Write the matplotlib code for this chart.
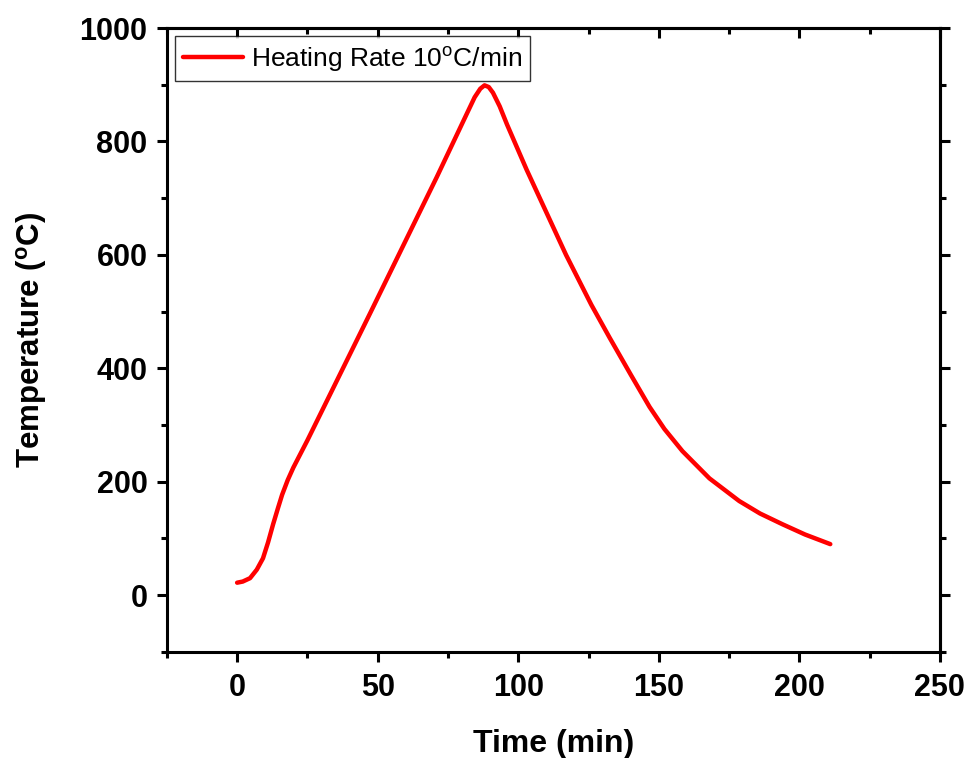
import numpy as np
import matplotlib
matplotlib.use("Agg")
import matplotlib.pyplot as plt
from matplotlib.ticker import MultipleLocator

# =========================
# DATA
# =========================
time_min = [0, 2, 4.6, 7, 9.2, 11, 12.8, 14.5, 16, 18, 20, 22.5, 25,
            47.2, 71, 82, 84.5, 86.5, 88, 89.5, 91, 93.4, 96, 103, 110,
            117, 126, 132.5, 140, 146.7, 152, 158.4, 168, 178.6, 186, 194,
            202, 211]
temp_c = [22, 24, 30, 45, 65, 93, 125, 153, 177, 203, 225, 249, 273,
          496, 737, 852, 878, 893, 899, 896, 886, 862, 830, 750, 675,
          600, 512, 454, 389, 332, 293, 254, 206, 166, 144, 125, 107, 90]

series_label = r"Heating Rate 10$^{\mathrm{o}}$C/min"

# =========================
# STYLE
# =========================
plt.rcParams["font.family"] = "Liberation Sans"
plt.rcParams["mathtext.fontset"] = "custom"
plt.rcParams["mathtext.rm"] = "Liberation Sans"
plt.rcParams["mathtext.bf"] = "Liberation Sans:bold"

LW = 2.2

fig = plt.figure(figsize=(9.7, 7.58), dpi=100)
ax = fig.add_axes([0.172, 0.140, 0.797, 0.823])

ax.plot(time_min, temp_c, color="#ff0000", linewidth=3.2, label=series_label,
        solid_joinstyle="round", solid_capstyle="round")

ax.set_xlim(-25, 250)
ax.set_ylim(-100, 1000)
ax.xaxis.set_major_locator(MultipleLocator(50))
ax.xaxis.set_minor_locator(MultipleLocator(25))
ax.yaxis.set_major_locator(MultipleLocator(200))
ax.yaxis.set_minor_locator(MultipleLocator(100))

for s in ax.spines.values():
    s.set_linewidth(LW)

ax.tick_params(which="both", direction="out", width=LW, labelsize=22)
ax.tick_params(which="major", length=7)
ax.tick_params(which="minor", length=4)
ax.tick_params(axis="y", pad=7)
ax.tick_params(axis="x", pad=8)
for lab in ax.get_xticklabels() + ax.get_yticklabels():
    lab.set_fontweight("bold")

# mirrored ticks: top inward, right outward
top = ax.secondary_xaxis("top")
top.xaxis.set_major_locator(MultipleLocator(50))
top.xaxis.set_minor_locator(MultipleLocator(25))
top.tick_params(which="both", direction="in", width=LW, labeltop=False)
top.tick_params(which="major", length=7)
top.tick_params(which="minor", length=4)
top.spines["top"].set_linewidth(LW)

right = ax.secondary_yaxis("right")
right.yaxis.set_major_locator(MultipleLocator(200))
right.yaxis.set_minor_locator(MultipleLocator(100))
right.tick_params(which="both", direction="out", width=LW, labelright=False)
right.tick_params(which="major", length=7)
right.tick_params(which="minor", length=4)
right.spines["right"].set_linewidth(LW)

ax.set_xlabel("Time (min)", fontsize=23, fontweight="bold", labelpad=19)
ax.set_ylabel(r"Temperature ($^{\mathbf{o}}$C)", fontsize=22.5,
              fontweight="bold", labelpad=22)

leg = ax.legend(loc="upper left", fontsize=19, frameon=True, fancybox=False,
                edgecolor="black", handlelength=2.3, handletextpad=0.3,
                borderpad=0.3, borderaxespad=0.3)
leg.get_frame().set_linewidth(1.0)

fig.savefig("out.png", dpi=100)
